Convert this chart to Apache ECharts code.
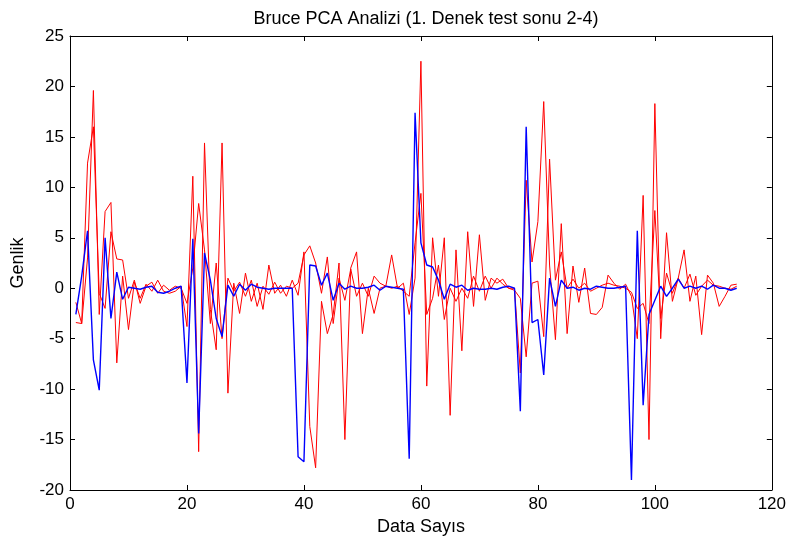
<!DOCTYPE html>
<html>
<head>
<meta charset="utf-8">
<script src="https://cdn.jsdelivr.net/npm/echarts@6/dist/echarts.min.js"></script>
<style>
html,body{margin:0;padding:0;background:#fff;}
#chart{width:789px;height:545px;}
</style>
</head>
<body>
<div id="chart"></div>
<script>
var titleText = 'Bruce PCA Analizi (1. Denek test sonu 2-4)';
var xName = 'Data Sayıs';
var yName = 'Genlik';
var xTicks = {min: 0, max: 120, interval: 20};
var yTicks = {min: -20, max: 25, interval: 5};

var blue = [
-2.6, 1.2, 5.7, -7.1, -10.1, 5.0, -3.0, 1.6, -1.1, 0.1, 0.0, -0.1, 0.1, 0.2, -0.4,
-0.5, -0.3, 0.0, 0.2, -9.4, 4.9, -14.4, 3.5, 0.8, -3.0, -4.8, 0.3, -0.8, 0.4, -0.2,
0.4, 0.1, 0.0, -0.1, 0.0, 0.0, 0.0, 0.0, -16.7, -17.2, 2.3, 2.2, 0.3, 1.5, -1.2, 0.5,
-0.1, 0.2, 0.0, 0.0, 0.1, 0.3, -0.2, 0.2, 0.1, 0.0, -0.1, -16.9, 17.4, 4.5, 2.3,
2.1, 0.8, -1.1, 0.4, 0.1, 0.3, -0.2, 0.0, -0.1, -0.1, 0.0, -0.1, 0.1, 0.2, 0.0,
-12.2, 16.0, -3.4, -3.1, -8.6, 1.0, -1.8, 0.8, 0.0, 0.1, -0.2, 0.0, -0.1, 0.2, 0.1, 0.0,
0.0, 0.1, 0.2, -19.0, 5.7, -11.6, -2.6, -1.2, 0.2, -0.8, 0.0, 0.9, 0.0, 0.2, 0.0, 0.2,
-0.1, 0.3, 0.0, 0.0, -0.2, 0.0
];

var red1 = [
-1.4, -3.5, 3.0, 19.6, -2.6, 7.6, 8.5, -7.4, 1.2, -4.1, 0.6, -1.0, 0.4, -0.3, 0.8,
-0.3, -0.5, -0.3, 0.2, -3.8, 11.1, -16.2, 14.4, -2.1, -6.1, 14.4, -10.4, 0.5, -2.5, 1.5,
-1.3, 0.5, -2.1, 2.3, -0.5, 0.3, -0.8, 0.8, -0.7, 3.6, -13.7, -17.8, -1.3, -4.5, -2.6, 2.5,
-15.0, 2.0, 3.6, -4.5, 0.0, -2.5, 0.0, 0.2, 3.3, 0.0, 0.5, -2.6, 1.0, 22.5, -9.7,
5.0, -0.8, 5.0, -12.6, 3.8, -6.2, 5.6, -1.8, 5.3, -1.2, 1.0, 0.5, 0.9, 0.0, 0.0,
-8.4, 10.7, 2.6, 6.6, 18.5, 2.3, -5.1, 6.4, -4.5, 2.2, -1.4, 2.0, -2.5, -2.6, -1.9, 1.3,
0.5, -0.1, 0.4, -0.8, -5.0, 9.2, -15.0, 18.3, -5.0, 5.5, -1.3, 1.0, 3.8, -1.3, 1.2, -4.6,
1.3, 0.5, -1.8, -0.8, 0.3, 0.4
];

var red2 = [
-3.4, -3.5, 12.4, 16.0, -0.5, -2.0, 5.6, 2.9, 2.8, -1.0, 0.8, -1.5, 0.2, 0.6, -0.5,
0.3, -0.2, 0.2, 0.0, -1.5, 2.0, 8.4, 3.8, -3.5, 2.5, -5.0, 1.0, -0.3, 0.6, -0.8,
0.8, -1.8, 0.2, -0.6, 0.6, -0.5, 0.2, 0.0, 0.5, 3.3, 4.2, 2.5, -0.5, 3.1, -3.5, 1.0,
-1.2, 1.9, -0.8, 0.5, -0.8, 1.2, 0.5, 0.2, 0.0, 0.2, -0.3, -0.8, 4.5, 9.4, -2.6,
-1.0, 2.3, -3.1, 0.0, -1.3, 0.0, -1.0, 1.2, -0.3, 1.2, 0.0, 1.0, 0.4, 0.0, -0.2,
-1.0, -6.8, 0.5, 0.7, -4.8, 12.8, 0.8, 3.6, 0.0, 0.9, 0.0, 0.5, -0.3, 0.0, 0.3, 0.5,
0.3, 0.2, 0.0, -0.4, -2.0, -1.5, -3.5, 7.7, -3.0, 1.5, -0.5, 1.0, 0.0, 1.4, -0.7, 0.2,
0.8, 0.3, 0.2, 0.0, -0.1, 0.2
];

function pairs(arr){ return arr.map(function(v,i){ return [i+1, v]; }); }

var font = '"Liberation Sans", Arial, sans-serif';
var axisLine = {show:true, onZero:false, lineStyle:{color:'#000', width:1}};
var axisTick = {show:true, inside:true, length:5, lineStyle:{color:'#000'}};

var chart = echarts.init(document.getElementById('chart'), null, {renderer:'canvas'});
chart.setOption({
  animation:false,
  backgroundColor:'#fff',
  title:{text:titleText, left:421, textAlign:'center', top:5,
    textStyle:{fontFamily:font, fontSize:18, fontWeight:'normal', color:'#000'}},
  grid:{left:70, right:17, top:36, bottom:55, containLabel:false},
  xAxis:[
    {type:'value', min:xTicks.min, max:xTicks.max, interval:xTicks.interval, position:'bottom',
     name:xName, nameLocation:'middle', nameGap:28,
     nameTextStyle:{fontFamily:font, fontSize:18, color:'#000'},
     axisLine:axisLine, axisTick:axisTick, splitLine:{show:false},
     axisLabel:{fontFamily:font, fontSize:17, color:'#000', margin:6}},
    {type:'value', min:xTicks.min, max:xTicks.max, interval:xTicks.interval, position:'top',
     axisLine:axisLine, axisTick:axisTick, splitLine:{show:false}, axisLabel:{show:false}}
  ],
  yAxis:[
    {type:'value', min:yTicks.min, max:yTicks.max, interval:yTicks.interval, position:'left',
     name:yName, nameLocation:'middle', nameGap:43,
     nameTextStyle:{fontFamily:font, fontSize:18, color:'#000'},
     axisLine:axisLine, axisTick:axisTick, splitLine:{show:false},
     axisLabel:{fontFamily:font, fontSize:17, color:'#000', margin:6}},
    {type:'value', min:yTicks.min, max:yTicks.max, interval:yTicks.interval, position:'right',
     axisLine:axisLine, axisTick:axisTick, splitLine:{show:false}, axisLabel:{show:false}}
  ],
  series:[
    {type:'line', data:pairs(red2), showSymbol:false, lineStyle:{color:'#ff0000', width:1}, z:2},
    {type:'line', data:pairs(red1), showSymbol:false, lineStyle:{color:'#ff0000', width:1}, z:2},
    {type:'line', data:pairs(blue), showSymbol:false, lineStyle:{color:'#0000ff', width:1.4}, z:3}
  ]
});
</script>
</body>
</html>
